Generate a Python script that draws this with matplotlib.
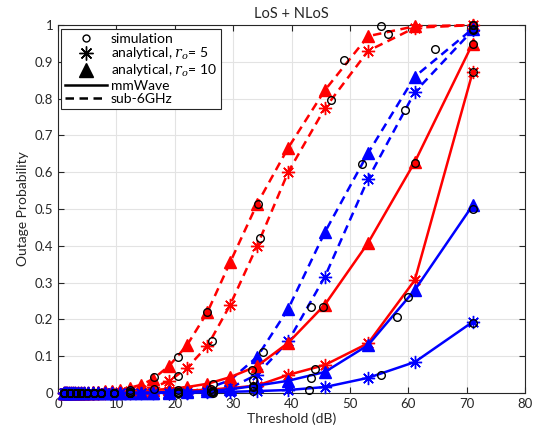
import matplotlib
matplotlib.use("Agg")
from matplotlib import pyplot as plt
from matplotlib.lines import Line2D

plt.rcParams['font.family'] = ['Lato', 'DejaVu Sans']
plt.rcParams['mathtext.fontset'] = 'custom'
plt.rcParams['mathtext.it'] = 'DejaVu Serif:italic'
plt.rcParams['mathtext.rm'] = 'DejaVu Serif'

# analytical threshold grid (dB)
x_ana = [1.0, 1.2, 1.4, 1.6, 1.9, 2.2, 2.5, 2.9, 3.4, 3.9, 4.5, 5.2, 6.0, 6.9, 8.0, 9.2,
         10.6, 12.3, 14.2, 16.2, 19.0, 22.1, 25.6, 29.5, 34.1, 39.4, 45.7, 53.1, 61.1, 71.0]
low = [0.0] * 9

# sub-6GHz (dashed)
red_d_10 = low + [0.001, 0.001, 0.001, 0.002, 0.003, 0.004, 0.005,
                  0.008, 0.014, 0.022, 0.037, 0.073, 0.13, 0.22, 0.356, 0.514, 0.666, 0.823, 0.97, 0.997, 1.0]
red_d_5 = low + [0.0, 0.0, 0.0, 0.0, 0.0, 0.001, 0.001,
                 0.002, 0.004, 0.008, 0.015, 0.032, 0.068, 0.128, 0.24, 0.40, 0.60, 0.774, 0.93, 0.993, 1.0]
blue_d_10 = low + [0.0] * 7 + [0.0, 0.0, 0.0, 0.0005, 0.001, 0.004, 0.012, 0.035, 0.098, 0.228, 0.437, 0.652, 0.86, 0.99]
blue_d_5 = low + [0.0] * 7 + [0.0, 0.0, 0.0, 0.0, 0.0, 0.001, 0.004, 0.014, 0.05, 0.14, 0.316, 0.582, 0.818, 0.986]

# mmWave (solid)
red_s_10 = low + [0.0, 0.0, 0.001, 0.001, 0.001, 0.002, 0.002,
                  0.003, 0.004, 0.006, 0.008, 0.011, 0.016, 0.025, 0.043, 0.073, 0.136, 0.24, 0.408, 0.628, 0.95]
red_s_5 = low + [0.0] * 7 + [0.001, 0.001, 0.002, 0.003, 0.004, 0.006, 0.009, 0.013, 0.02, 0.049, 0.076, 0.135, 0.307, 0.872]
blue_s_10 = low + [0.0] * 7 + [0.0, 0.0, 0.001, 0.001, 0.002, 0.003, 0.005, 0.01, 0.02, 0.033, 0.057, 0.13, 0.28, 0.51]
blue_s_5 = low + [0.0] * 7 + [0.0, 0.0, 0.0, 0.0, 0.001, 0.001, 0.002, 0.003, 0.005, 0.008, 0.016, 0.041, 0.084, 0.193]

# simulation points
x_lo = [1.1, 2.0, 3.0, 3.9, 4.9, 6.1, 7.4, 9.6]
z_lo = [0.0] * 8
sim_red_d_10 = (x_lo + [12.3, 16.4, 20.5, 25.6, 34.2, 49.0, 55.3, 71.0],
                z_lo + [0.008, 0.044, 0.098, 0.22, 0.514, 0.905, 0.997, 1.0])
sim_red_d_5 = (x_lo + [12.3, 16.4, 20.5, 26.3, 34.6, 46.8, 56.5, 71.0],
               z_lo + [0.003, 0.01, 0.046, 0.14, 0.42, 0.796, 0.976, 1.0])
sim_blue_d_10 = (x_lo + [12.3, 20.5, 26.2, 35.1, 52.0, 64.6, 71.0],
                 z_lo + [0.0, 0.002, 0.01, 0.11, 0.623, 0.935, 0.99])
sim_blue_d_5 = (x_lo + [12.3, 20.5, 26.2, 33.4, 43.3, 59.4, 71.0],
                z_lo + [0.0, 0.0, 0.003, 0.035, 0.234, 0.77, 0.986])
sim_red_s_10 = (x_lo + [12.3, 20.5, 26.5, 33.2, 45.4, 61.1, 71.0],
                z_lo + [0.003, 0.008, 0.024, 0.062, 0.234, 0.625, 0.95])
sim_red_s_5 = (x_lo + [12.3, 20.5, 26.5, 33.4, 44.0, 58.0, 71.0],
               z_lo + [0.001, 0.003, 0.005, 0.02, 0.065, 0.207, 0.872])
sim_blue_s_10 = (x_lo + [12.3, 20.5, 26.5, 33.4, 43.3, 60.0, 71.0],
                 z_lo + [0.0, 0.001, 0.003, 0.017, 0.04, 0.26, 0.50])
sim_blue_s_5 = (x_lo + [12.3, 20.5, 26.5, 33.4, 43.0, 55.3, 71.0],
                z_lo + [0.0, 0.0, 0.0, 0.004, 0.008, 0.049, 0.19])

fig = plt.figure(figsize=(5.42, 4.41), dpi=100)
ax = fig.add_axes([0.107, 0.109, 0.862, 0.834])

star = (8, 2, 0)
dash = (3.4, 2.2)
curves = [
    (red_d_10, 'r', '--', '^'), (red_d_5, 'r', '--', star),
    (blue_d_10, 'b', '--', '^'), (blue_d_5, 'b', '--', star),
    (red_s_10, 'r', '-', '^'), (red_s_5, 'r', '-', star),
    (blue_s_10, 'b', '-', '^'), (blue_s_5, 'b', '-', star),
]
for y, c, ls, mk in curves:
    if mk == '^':
        line, = ax.plot(x_ana, y, color=c, ls=ls, lw=1.8, marker='^', ms=9,
                        mfc=c, mec=c, clip_on=False, zorder=3)
    else:
        line, = ax.plot(x_ana, y, color=c, ls=ls, lw=1.8, marker=mk, ms=9.5,
                        mfc='none', mec=c, mew=1.0, clip_on=False, zorder=3)
    if ls == '--':
        line.set_dashes(dash)

for sx, sy in [sim_red_d_10, sim_red_d_5, sim_blue_d_10, sim_blue_d_5,
               sim_red_s_10, sim_red_s_5, sim_blue_s_10, sim_blue_s_5]:
    ax.plot(sx, sy, ls='none', marker='o', ms=5.5, mfc='none', mec='k',
            mew=1.0, clip_on=False, zorder=4)

ax.set_xlim(0, 80)
ax.set_ylim(0, 1)
ax.set_xticks(range(0, 81, 10))
ax.set_yticks([i / 10 for i in range(11)])
ax.set_yticklabels(['0', '0.1', '0.2', '0.3', '0.4', '0.5', '0.6', '0.7', '0.8', '0.9', '1'])
ax.tick_params(direction='in', top=True, right=True, labelsize=9.5, length=4,
               color='#262626', labelcolor='#262626')
ax.grid(True, color='#e3e3e3', lw=0.8)
ax.set_axisbelow(True)
for sp in ax.spines.values():
    sp.set_color('#262626')
    sp.set_linewidth(0.8)

ax.set_xlabel('Threshold (dB)', fontsize=10, color='#262626', labelpad=2)
ax.set_ylabel('Outage Probability', fontsize=10, color='#262626', labelpad=4)
ax.set_title('LoS + NLoS', fontsize=10.5, color='#262626', pad=5)

dashed_handle = Line2D([], [], ls='--', color='k', lw=1.8)
dashed_handle.set_dashes(dash)
handles = [
    Line2D([], [], ls='none', marker='o', ms=5, mfc='none', mec='k'),
    Line2D([], [], ls='none', marker=star, ms=10, mec='k'),
    Line2D([], [], ls='none', marker='^', ms=10, mfc='k', mec='k'),
    Line2D([], [], ls='-', color='k', lw=1.8),
    dashed_handle,
]
labels = ['simulation', r'analytical, $r_o$= 5', r'analytical, $r_o$= 10', 'mmWave', 'sub-6GHz']
leg = ax.legend(handles, labels, loc='upper left', bbox_to_anchor=(0.006, 0.99),
                fontsize=10, handlelength=3.0, handletextpad=0.3, labelspacing=0.05,
                borderpad=0.3, fancybox=False, framealpha=1, borderaxespad=0)
leg.get_frame().set_edgecolor('#262626')
leg.get_frame().set_linewidth(0.8)

fig.savefig('out.png', dpi=100)
